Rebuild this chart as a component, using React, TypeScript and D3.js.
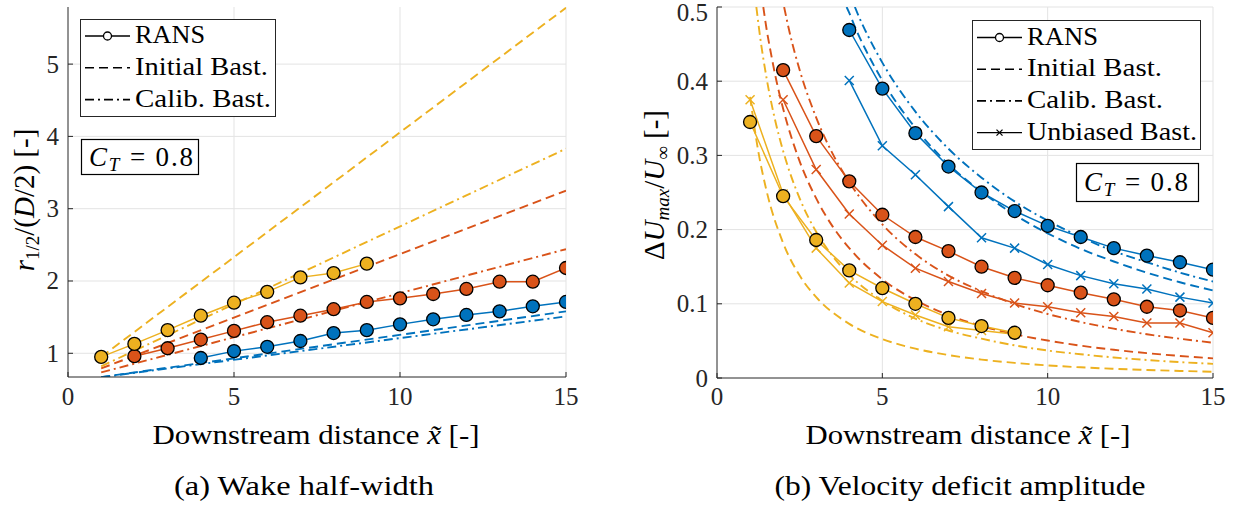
import React from 'react';
import * as d3 from 'd3';

// ---------------- data: (a) wake half-width ----------------
const ransXBlue = [4, 5, 6, 7, 8, 9, 10, 11, 12, 13, 14, 15];
const ransXOrange = [2, 3, 4, 5, 6, 7, 8, 9, 10, 11, 12, 13, 14, 15];
const ransXYellow = [1, 2, 3, 4, 5, 6, 7, 8, 9];

const widthRansBlue = [0.935, 1.03, 1.09, 1.17, 1.28, 1.32, 1.40, 1.47, 1.53, 1.58, 1.65, 1.71];
const widthRansOrange = [0.96, 1.07, 1.19, 1.31, 1.43, 1.52, 1.61, 1.71, 1.76, 1.82, 1.89, 1.99, 1.99, 2.18];
const widthRansYellow = [0.95, 1.13, 1.32, 1.52, 1.70, 1.85, 2.05, 2.11, 2.24];

const widthModelX = [1, 15];
const widthInitBlue = [0.67, 1.58];
const widthCalibBlue = [0.67, 1.51];
const widthInitOrange = [0.79, 3.25];
const widthCalibOrange = [0.735, 2.44];
const widthInitYellow = [0.95, 5.78];
const widthCalibYellow = [0.82, 3.83];

// ---------------- data: (b) velocity deficit amplitude ----------------
const deficitRansBlue = [0.469, 0.390, 0.330, 0.285, 0.250, 0.225, 0.205, 0.190, 0.175, 0.165, 0.156, 0.146];
const deficitUnbBlue = [0.401, 0.313, 0.274, 0.231, 0.189, 0.175, 0.153, 0.138, 0.127, 0.120, 0.109, 0.101];
const deficitRansOrange = [0.415, 0.326, 0.265, 0.220, 0.190, 0.171, 0.150, 0.135, 0.125, 0.115, 0.106, 0.096, 0.091, 0.081];
const deficitUnbOrange = [0.375, 0.281, 0.221, 0.179, 0.148, 0.130, 0.114, 0.101, 0.096, 0.088, 0.083, 0.074, 0.074, 0.061];
const deficitRansYellow = [0.345, 0.245, 0.186, 0.145, 0.121, 0.100, 0.081, 0.070, 0.061];
const deficitUnbYellow = [0.375, 0.248, 0.175, 0.128, 0.103, 0.085, 0.069, 0.064, 0.059];

const initBlueX = [3.92, 4, 4.25, 4.5, 5, 6, 7, 8, 9, 10, 11, 12, 13, 14, 15];
const initBlueY = [0.5, 0.492, 0.465, 0.442, 0.401, 0.337, 0.288, 0.251, 0.220, 0.195, 0.174, 0.157, 0.142, 0.129, 0.118];
const calibBlueX = [4.17, 4.3, 4.5, 5, 6, 7, 8, 9, 10, 11, 12, 13, 14, 15];
const calibBlueY = [0.5, 0.486, 0.467, 0.425, 0.359, 0.309, 0.270, 0.238, 0.212, 0.190, 0.171, 0.156, 0.142, 0.130];
const initOrangeX = [1.4, 1.5, 1.6, 1.8, 2, 2.5, 3, 3.5, 4, 5, 6, 7, 8, 9, 10, 11, 12, 13, 14, 15];
const initOrangeY = [0.5, 0.470, 0.445, 0.400, 0.363, 0.292, 0.242, 0.204, 0.175, 0.133, 0.105, 0.085, 0.070, 0.059, 0.0505, 0.0436, 0.038, 0.0335, 0.0297, 0.0265];
const calibOrangeX = [2.03, 2.2, 2.5, 3, 3.5, 4, 5, 6, 7, 8, 9, 10, 11, 12, 13, 14, 15];
const calibOrangeY = [0.5, 0.465, 0.415, 0.351, 0.302, 0.264, 0.207, 0.167, 0.138, 0.117, 0.0997, 0.0863, 0.0754, 0.0665, 0.059, 0.0529, 0.0476];
const initYellowX = [1, 1.25, 1.5, 2, 2.5, 3, 4, 5, 6, 7, 8, 9, 10, 11, 12, 13, 14, 15];
const initYellowY = [0.379, 0.305, 0.252, 0.182, 0.138, 0.109, 0.073, 0.0525, 0.0395, 0.0309, 0.0248, 0.0204, 0.017, 0.0144, 0.0124, 0.0108, 0.0095, 0.0084];
const calibYellowX = [1.19, 1.3, 1.5, 1.75, 2, 2.5, 3, 3.5, 4, 5, 6, 7, 8, 9, 10, 11, 12, 13, 14, 15];
const calibYellowY = [0.5, 0.461, 0.404, 0.349, 0.306, 0.242, 0.197, 0.164, 0.139, 0.104, 0.080, 0.064, 0.053, 0.044, 0.037, 0.032, 0.0277, 0.0243, 0.0214, 0.0191];

const xTicks = [0, 5, 10, 15];
const yTicksLeft = [1, 2, 3, 4, 5];
const yTicksRight = [0, 0.1, 0.2, 0.3, 0.4, 0.5];
const legendLeft = ['RANS', 'Initial Bast.', 'Calib. Bast.'];
const legendRight = ['RANS', 'Initial Bast.', 'Calib. Bast.', 'Unbiased Bast.'];

// ---------------- styles ----------------
const BLUE = '#0072BD';
const ORANGE = '#D95319';
const YELLOW = '#EDB120';
const FONT = "'Liberation Serif', 'DejaVu Serif', serif";
const GRID = '#e3e3e3';
const AXIS = '#262626';
const DASH = '9,5';
const DASHDOT = '9,4,2,4';
const legendLeftWidths = [70, 133, 136];
const legendRightWidths = [71, 135, 136, 170];

const pairs = (xs: number[], ys: number[]) => xs.map((x, i) => [x, ys[i]] as [number, number]);

export default function App() {
  const xL = d3.scaleLinear().domain([0, 15]).range([68, 566]);
  const yL = d3.scaleLinear().domain([0.672, 5.79]).range([377, 7]);
  const xR = d3.scaleLinear().domain([0, 15]).range([717, 1213]);
  const yR = d3.scaleLinear().domain([0, 0.5]).range([378, 7]);

  const lineL = d3.line<[number, number]>().x(d => xL(d[0])).y(d => yL(d[1]));
  const lineR = d3.line<[number, number]>().x(d => xR(d[0])).y(d => yR(d[1]));
  const curveR = d3.line<[number, number]>().x(d => xR(d[0])).y(d => yR(d[1])).curve(d3.curveMonotoneX);

  const leftModels = [
    { ys: widthInitBlue, c: BLUE, dash: DASH },
    { ys: widthCalibBlue, c: BLUE, dash: DASHDOT },
    { ys: widthInitOrange, c: ORANGE, dash: DASH },
    { ys: widthCalibOrange, c: ORANGE, dash: DASHDOT },
    { ys: widthInitYellow, c: YELLOW, dash: DASH },
    { ys: widthCalibYellow, c: YELLOW, dash: DASHDOT },
  ];
  const leftRans = [
    { xs: ransXBlue, ys: widthRansBlue, c: BLUE },
    { xs: ransXOrange, ys: widthRansOrange, c: ORANGE },
    { xs: ransXYellow, ys: widthRansYellow, c: YELLOW },
  ];
  const rightModels = [
    { xs: initBlueX, ys: initBlueY, c: BLUE, dash: DASH },
    { xs: calibBlueX, ys: calibBlueY, c: BLUE, dash: DASHDOT },
    { xs: initOrangeX, ys: initOrangeY, c: ORANGE, dash: DASH },
    { xs: calibOrangeX, ys: calibOrangeY, c: ORANGE, dash: DASHDOT },
    { xs: initYellowX, ys: initYellowY, c: YELLOW, dash: DASH },
    { xs: calibYellowX, ys: calibYellowY, c: YELLOW, dash: DASHDOT },
  ];
  const rightUnb = [
    { xs: ransXBlue, ys: deficitUnbBlue, c: BLUE },
    { xs: ransXOrange, ys: deficitUnbOrange, c: ORANGE },
    { xs: ransXYellow, ys: deficitUnbYellow, c: YELLOW },
  ];
  const rightRans = [
    { xs: ransXBlue, ys: deficitRansBlue, c: BLUE },
    { xs: ransXOrange, ys: deficitRansOrange, c: ORANGE },
    { xs: ransXYellow, ys: deficitRansYellow, c: YELLOW },
  ];

  const xMark = 'M-4.5,-4.5L4.5,4.5M-4.5,4.5L4.5,-4.5';

  const legendSample = (kind: number, x0: number, x1: number, y: number) => {
    const mid = (x0 + x1) / 2;
    if (kind === 0) return (
      <g>
        <line x1={x0} x2={x1} y1={y} y2={y} stroke="#000" strokeWidth={1.3} />
        <circle cx={mid} cy={y} r={4} fill="#fff" stroke="#000" strokeWidth={1.3} />
      </g>
    );
    if (kind === 1) return <line x1={x0} x2={x1} y1={y} y2={y} stroke="#000" strokeWidth={1.6} strokeDasharray="9,5" />;
    if (kind === 2) return <line x1={x0} x2={x1} y1={y} y2={y} stroke="#000" strokeWidth={1.6} strokeDasharray="9,4,2,4" />;
    return (
      <g>
        <line x1={x0} x2={x1} y1={y} y2={y} stroke="#000" strokeWidth={1.3} />
        <path d="M-3,-3L3,3M-3,3L3,-3" transform={`translate(${mid},${y})`} stroke="#000" strokeWidth={1.3} />
      </g>
    );
  };

  const ct = (x: number, y: number) => (
    <text x={x} y={y} fontSize={27} textLength={104} lengthAdjust="spacing">
      <tspan fontStyle="italic">C</tspan>
      <tspan fontStyle="italic" fontSize={19} dy={5}>T</tspan>
      <tspan dy={-5}>{'  =  0.8'}</tspan>
    </text>
  );

  return (
    <svg width={1239} height={506} style={{ position: 'absolute', left: 0, top: 0, background: '#fff', fontFamily: FONT }}>
      <defs>
        <clipPath id="clipL"><rect x={68} y={7} width={498} height={370} /></clipPath>
        <clipPath id="clipR"><rect x={717} y={7} width={496} height={371} /></clipPath>
      </defs>
      <rect x={0} y={0} width={1239} height={506} fill="#fff" />

      {/* ---------- left panel ---------- */}
      {xTicks.filter(t => t > 0).map(t => (
        <line key={'gxl' + t} x1={xL(t)} x2={xL(t)} y1={7} y2={377} stroke={GRID} strokeWidth={1} />
      ))}
      {yTicksLeft.map(t => (
        <line key={'gyl' + t} x1={68} x2={566} y1={yL(t)} y2={yL(t)} stroke={GRID} strokeWidth={1} />
      ))}
      <g clipPath="url(#clipL)">
        {leftModels.map((m, i) => (
          <path key={'lm' + i} d={lineL(pairs(widthModelX, m.ys)) || ''} fill="none" stroke={m.c} strokeWidth={1.9} strokeDasharray={m.dash} />
        ))}
        {leftRans.map((s, i) => (
          <path key={'lr' + i} d={lineL(pairs(s.xs, s.ys)) || ''} fill="none" stroke={s.c} strokeWidth={1.5} />
        ))}
        {leftRans.map((s, i) => s.xs.map((x, j) => (
          <circle key={'lc' + i + '_' + j} cx={xL(x)} cy={yL(s.ys[j])} r={6.5} fill={s.c} stroke="#000" strokeWidth={1.3} />
        )))}
      </g>
      <line x1={68} x2={68} y1={7} y2={377} stroke={AXIS} strokeWidth={1} />
      <line x1={68} x2={566} y1={377} y2={377} stroke={AXIS} strokeWidth={1} />
      {yTicksLeft.map(t => (
        <g key={'tyl' + t}>
          <line x1={68} x2={73} y1={yL(t)} y2={yL(t)} stroke={AXIS} />
          <text x={59} y={yL(t) + 8.5} fontSize={25} textAnchor="end" fill={AXIS}>{t}</text>
        </g>
      ))}
      {xTicks.map(t => (
        <g key={'txl' + t}>
          <line x1={xL(t)} x2={xL(t)} y1={377} y2={372} stroke={AXIS} />
          <text x={xL(t)} y={405} fontSize={25} textAnchor="middle" fill={AXIS}>{t}</text>
        </g>
      ))}
      <text x={316} y={444} fontSize={27} textAnchor="middle" textLength={327} lengthAdjust="spacingAndGlyphs">
        Downstream distance <tspan fontStyle="italic">x̃</tspan> [-]
      </text>
      <text transform="translate(34,200) rotate(-90)" fontSize={29} textAnchor="middle">
        <tspan fontStyle="italic">r</tspan>
        <tspan fontSize={19} dy={5}>1/2</tspan>
        <tspan dy={-5}>/(</tspan>
        <tspan fontStyle="italic">D</tspan>
        <tspan>/2) [-]</tspan>
      </text>
      <text x={304} y={495} fontSize={27} textAnchor="middle" textLength={260} lengthAdjust="spacingAndGlyphs">(a) Wake half-width</text>

      {/* left legend */}
      <rect x={80.5} y={19.5} width={195} height={97} fill="#fff" stroke={AXIS} strokeWidth={1} />
      {legendLeft.map((label, i) => (
        <g key={'lgl' + i}>
          {legendSample(i, 85, 130, 36 + i * 31.8)}
          <text x={135} y={43 + i * 31.8} fontSize={26} textLength={legendLeftWidths[i]} lengthAdjust="spacingAndGlyphs">{label}</text>
        </g>
      ))}
      <rect x={81.5} y={139.5} width={117} height={35} fill="#fff" stroke="#000" strokeWidth={1.2} />
      {ct(89, 166)}

      {/* ---------- right panel ---------- */}
      {xTicks.filter(t => t > 0).map(t => (
        <line key={'gxr' + t} x1={xR(t)} x2={xR(t)} y1={7} y2={378} stroke={GRID} strokeWidth={1} />
      ))}
      {yTicksRight.filter(t => t > 0).map(t => (
        <line key={'gyr' + t} x1={717} x2={1213} y1={yR(t)} y2={yR(t)} stroke={GRID} strokeWidth={1} />
      ))}
      <g clipPath="url(#clipR)">
        {rightModels.map((m, i) => (
          <path key={'rm' + i} d={curveR(pairs(m.xs, m.ys)) || ''} fill="none" stroke={m.c} strokeWidth={1.9} strokeDasharray={m.dash} />
        ))}
        {rightUnb.map((s, i) => (
          <g key={'ru' + i}>
            <path d={lineR(pairs(s.xs, s.ys)) || ''} fill="none" stroke={s.c} strokeWidth={1.5} />
            {s.xs.map((x, j) => (
              <path key={j} d={xMark} transform={`translate(${xR(x)},${yR(s.ys[j])})`} stroke={s.c} strokeWidth={1.5} fill="none" />
            ))}
          </g>
        ))}
        {rightRans.map((s, i) => (
          <path key={'rr' + i} d={lineR(pairs(s.xs, s.ys)) || ''} fill="none" stroke={s.c} strokeWidth={1.5} />
        ))}
        {rightRans.map((s, i) => s.xs.map((x, j) => (
          <circle key={'rc' + i + '_' + j} cx={xR(x)} cy={yR(s.ys[j])} r={6.5} fill={s.c} stroke="#000" strokeWidth={1.3} />
        )))}
      </g>
      <line x1={717} x2={717} y1={7} y2={378} stroke={AXIS} strokeWidth={1} />
      <line x1={717} x2={1213} y1={378} y2={378} stroke={AXIS} strokeWidth={1} />
      {yTicksRight.map(t => (
        <g key={'tyr' + t}>
          <line x1={717} x2={722} y1={yR(t)} y2={yR(t)} stroke={AXIS} />
          <text x={708} y={Math.max(yR(t) + 8.5, 21)} fontSize={25} textAnchor="end" fill={AXIS}>{t === 0 ? '0' : t.toFixed(1)}</text>
        </g>
      ))}
      {xTicks.map(t => (
        <g key={'txr' + t}>
          <line x1={xR(t)} x2={xR(t)} y1={378} y2={373} stroke={AXIS} />
          <text x={xR(t)} y={405} fontSize={25} textAnchor="middle" fill={AXIS}>{t}</text>
        </g>
      ))}
      <text x={968} y={444} fontSize={27} textAnchor="middle" textLength={325} lengthAdjust="spacingAndGlyphs">
        Downstream distance <tspan fontStyle="italic">x̃</tspan> [-]
      </text>
      <text transform="translate(664,185) rotate(-90)" fontSize={29} textAnchor="middle">
        <tspan>Δ</tspan>
        <tspan fontStyle="italic">U</tspan>
        <tspan fontStyle="italic" fontSize={19} dy={5}>max</tspan>
        <tspan dy={-5}>/</tspan>
        <tspan fontStyle="italic">U</tspan>
        <tspan fontSize={19} dy={5}>∞</tspan>
        <tspan dy={-5}>{' [-]'}</tspan>
      </text>
      <text x={960} y={495} fontSize={27} textAnchor="middle" textLength={371} lengthAdjust="spacingAndGlyphs">(b) Velocity deficit amplitude</text>

      {/* right legend */}
      <rect x={972.5} y={20.5} width={228} height={129} fill="#fff" stroke={AXIS} strokeWidth={1} />
      {legendRight.map((label, i) => (
        <g key={'lgr' + i}>
          {legendSample(i, 977, 1022, 37.5 + i * 31.7)}
          <text x={1027} y={44.5 + i * 31.7} fontSize={26} textLength={legendRightWidths[i]} lengthAdjust="spacingAndGlyphs">{label}</text>
        </g>
      ))}
      <rect x={1076.5} y={163.5} width={122} height={38} fill="#fff" stroke="#000" strokeWidth={1.2} />
      {ct(1084, 191)}
    </svg>
  );
}
